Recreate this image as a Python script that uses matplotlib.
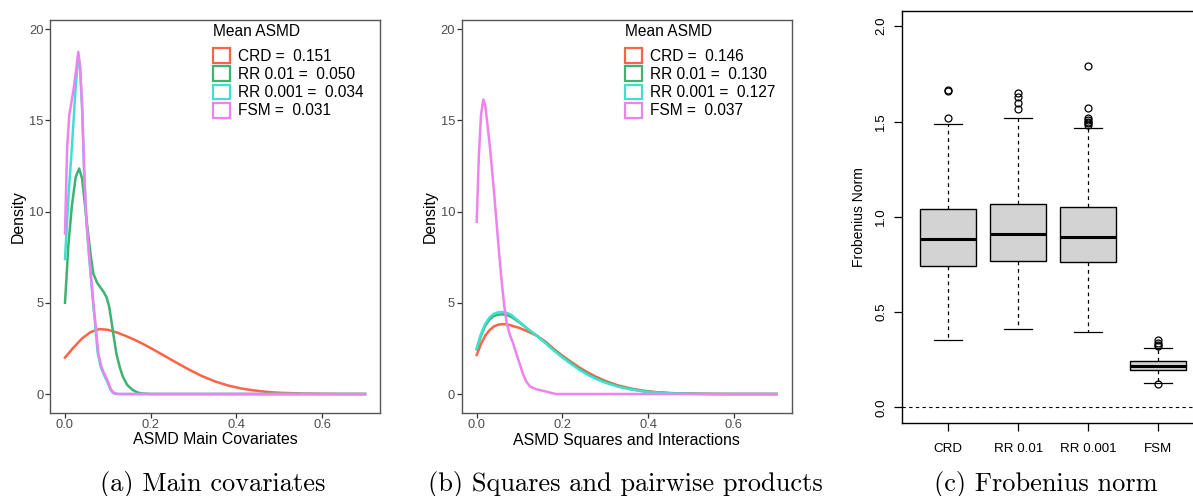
import matplotlib
matplotlib.use("Agg")
import matplotlib.pyplot as plt
from matplotlib.patches import Patch

# ---------------- data ----------------
methods = ["CRD", "RR 0.01", "RR 0.001", "FSM"]
colors = ["#FF6347", "#3CB371", "#40E0D0", "#EE82EE"]
mean_asmd_main = ["0.151", "0.050", "0.034", "0.031"]
mean_asmd_sq = ["0.146", "0.130", "0.127", "0.037"]

# Panel (a): density of ASMD, main covariates
crd_a_x = [0.0, 0.02, 0.04, 0.06, 0.08, 0.10, 0.12, 0.14, 0.16, 0.18, 0.20, 0.23, 0.26, 0.29, 0.32,
           0.35, 0.38, 0.41, 0.44, 0.47, 0.50, 0.55, 0.60, 0.65, 0.70]
crd_a_y = [2.0, 2.55, 3.05, 3.4, 3.56, 3.52, 3.38, 3.2, 3.0, 2.77, 2.52, 2.12, 1.72, 1.33, 0.98,
           0.69, 0.47, 0.31, 0.2, 0.12, 0.07, 0.03, 0.01, 0.0, 0.0]
rr01_a_x = [0.0, 0.008, 0.016, 0.025, 0.033, 0.04, 0.05, 0.06, 0.066, 0.075, 0.081, 0.09, 0.097,
            0.103, 0.108, 0.114, 0.12, 0.128, 0.135, 0.145, 0.158, 0.17, 0.18, 0.20, 0.70]
rr01_a_y = [5.0, 8.2, 10.3, 11.9, 12.36, 11.8, 9.6, 7.6, 6.6, 6.1, 5.9, 5.6, 5.3,
            4.8, 4.05, 3.1, 2.2, 1.45, 0.95, 0.5, 0.22, 0.08, 0.03, 0.0, 0.0]
rr001_a_x = [0.0, 0.008, 0.016, 0.024, 0.031, 0.035, 0.04, 0.045, 0.05, 0.055, 0.06, 0.066, 0.07,
             0.076, 0.083, 0.09, 0.1, 0.106, 0.112, 0.118, 0.70]
rr001_a_y = [7.4, 10.8, 13.5, 16.5, 18.6, 17.9, 15.6, 12.0, 9.4, 7.9, 6.5, 4.9, 3.9,
             2.3, 1.5, 1.1, 0.6, 0.25, 0.06, 0.0, 0.0]
fsm_a_x = [0.0, 0.005, 0.01, 0.02, 0.025, 0.031, 0.035, 0.04, 0.045, 0.05, 0.055, 0.06, 0.066,
           0.07, 0.078, 0.085, 0.09, 0.1, 0.107, 0.115, 0.125, 0.70]
fsm_a_y = [8.8, 13.5, 15.3, 16.7, 17.6, 18.75, 18.0, 15.8, 12.0, 9.5, 8.0, 6.6, 5.0,
           4.1, 2.2, 1.5, 1.2, 0.7, 0.25, 0.05, 0.0, 0.0]

# Panel (b): density of ASMD, squares and interactions
crd_b_x = [0.0, 0.01, 0.02, 0.03, 0.04, 0.05, 0.06, 0.07, 0.08, 0.10, 0.12, 0.14, 0.16, 0.18, 0.20,
           0.22, 0.24, 0.26, 0.28, 0.30, 0.33, 0.36, 0.39, 0.42, 0.45, 0.50, 0.55, 0.60, 0.70]
crd_b_y = [2.14, 2.75, 3.2, 3.5, 3.7, 3.8, 3.83, 3.82, 3.76, 3.62, 3.42, 3.2, 2.88, 2.47, 2.1,
           1.77, 1.45, 1.17, 0.93, 0.72, 0.47, 0.3, 0.18, 0.1, 0.05, 0.02, 0.01, 0.0, 0.0]
rr01_b_x = [0.0, 0.01, 0.02, 0.03, 0.04, 0.05, 0.06, 0.07, 0.08, 0.10, 0.12, 0.14, 0.16, 0.18, 0.20,
            0.22, 0.24, 0.26, 0.28, 0.30, 0.33, 0.36, 0.39, 0.42, 0.45, 0.50, 0.55, 0.70]
rr01_b_y = [2.45, 3.2, 3.75, 4.08, 4.28, 4.35, 4.37, 4.33, 4.24, 3.92, 3.55, 3.2, 2.82, 2.42, 2.04,
            1.69, 1.37, 1.09, 0.86, 0.66, 0.43, 0.27, 0.15, 0.09, 0.05, 0.015, 0.0, 0.0]
rr001_b_x = [0.0, 0.01, 0.02, 0.03, 0.04, 0.05, 0.06, 0.07, 0.08, 0.10, 0.12, 0.14, 0.16, 0.18, 0.20,
             0.22, 0.24, 0.26, 0.28, 0.30, 0.33, 0.36, 0.39, 0.42, 0.45, 0.50, 0.55, 0.70]
rr001_b_y = [2.5, 3.3, 3.85, 4.2, 4.4, 4.48, 4.5, 4.45, 4.35, 3.95, 3.55, 3.2, 2.8, 2.38, 2.0,
             1.65, 1.32, 1.04, 0.81, 0.62, 0.4, 0.25, 0.14, 0.08, 0.04, 0.01, 0.0, 0.0]
fsm_b_x = [0.0, 0.005, 0.01, 0.0155, 0.02, 0.025, 0.031, 0.04, 0.046, 0.052, 0.058, 0.064, 0.07,
           0.078, 0.085, 0.092, 0.1, 0.108, 0.116, 0.125, 0.139, 0.15, 0.163, 0.175, 0.186, 0.70]
fsm_b_y = [9.44, 13.0, 15.3, 16.14, 15.8, 14.8, 13.5, 11.2, 9.5, 7.8, 6.24, 4.9, 3.87,
           3.2, 2.78, 2.25, 1.68, 1.1, 0.67, 0.4, 0.26, 0.2, 0.13, 0.05, 0.0, 0.0]

# Panel (c): Frobenius norm boxplot summaries
box_labels = ["CRD", "RR 0.01", "RR 0.001", "FSM"]
box_q1 = [0.742, 0.767, 0.763, 0.196]
box_med = [0.886, 0.912, 0.896, 0.218]
box_q3 = [1.043, 1.068, 1.050, 0.243]
box_whislo = [0.352, 0.411, 0.394, 0.126]
box_whishi = [1.488, 1.518, 1.468, 0.313]
box_fliers = [[1.518, 1.660, 1.663],
              [1.568, 1.597, 1.631, 1.652],
              [1.480, 1.490, 1.500, 1.510, 1.518, 1.570, 1.793],
              [0.123, 0.320, 0.330, 0.336, 0.353]]

# ---------------- figure ----------------
W, H = 1193, 496
fig = plt.figure(figsize=(W / 100, H / 100), dpi=100)
sans = "Liberation Sans"
plt.rcParams["font.family"] = [sans, "DejaVu Sans"]


def px_axes(l, t, r, b):
    return fig.add_axes([l / W, 1 - b / H, (r - l) / W, (b - t) / H])


def style_gg(ax):
    for s in ax.spines.values():
        s.set_color("#555555")
        s.set_linewidth(1.0)
    ax.tick_params(axis="both", direction="out", length=3.6, width=0.9, color="#333333",
                   labelcolor="#4D4D4D", labelsize=9.3)
    ax.tick_params(axis="x", pad=0.8)
    ax.tick_params(axis="y", pad=1.2)
    ax.set_xlim(-0.035, 0.735)
    ax.set_ylim(-1.04, 20.5)
    ax.set_xticks([0.0, 0.2, 0.4, 0.6])
    ax.set_xticklabels(["0.0", "0.2", "0.4", "0.6"])
    ax.set_yticks([0, 5, 10, 15, 20])
    ax.set_yticklabels(["0", "5", "10", "15", "20"])
    ax.set_ylabel("Density", fontsize=11.4, color="black", labelpad=2)


def gg_legend(ax, values):
    ax.text(0.494, 0.971, "Mean ASMD", transform=ax.transAxes, fontsize=11.2,
            ha="left", va="center", color="black")
    handles = [Patch(facecolor="white", edgecolor=c, linewidth=1.6) for c in colors]
    labels = [f"{m} =  {v}" for m, v in zip(methods, values)]
    leg = ax.legend(handles, labels, loc="upper left",
                    bbox_to_anchor=(0.494, 0.929), frameon=False, fontsize=11.2,
                    handlelength=1.08, handleheight=1.08, borderaxespad=0.0,
                    handletextpad=0.55, labelspacing=0.17, borderpad=0.0)
    return leg


# Panel (a)
ax1 = px_axes(50, 20, 380, 413)
style_gg(ax1)
series_a = [(crd_a_x, crd_a_y), (rr01_a_x, rr01_a_y), (rr001_a_x, rr001_a_y), (fsm_a_x, fsm_a_y)]
for (xs, ys), c in zip(series_a, colors):
    ax1.plot(xs, ys, color=c, lw=1.8, solid_joinstyle="round")
ax1.set_xlabel("ASMD Main Covariates", fontsize=11.4, color="black", labelpad=1)
gg_legend(ax1, mean_asmd_main)

# Panel (b)
ax2 = px_axes(461.7, 20, 791.7, 413)
style_gg(ax2)
series_b = [(crd_b_x, crd_b_y), (rr01_b_x, rr01_b_y), (rr001_b_x, rr001_b_y), (fsm_b_x, fsm_b_y)]
for (xs, ys), c in zip(series_b, colors):
    ax2.plot(xs, ys, color=c, lw=1.8, solid_joinstyle="round")
ax2.set_xlabel("ASMD Squares and Interactions", fontsize=11.4, color="black", labelpad=1)
gg_legend(ax2, mean_asmd_sq)

# Panel (c)
ax3 = px_axes(902, 11, 1204.5, 422.7)
stats = []
for lab, q1, med, q3, lo, hi, fl in zip(box_labels, box_q1, box_med, box_q3,
                                        box_whislo, box_whishi, box_fliers):
    stats.append(dict(label=lab, q1=q1, med=med, q3=q3, whislo=lo, whishi=hi, fliers=fl))
ax3.axhline(0, ls=(0, (3, 3)), color="black", lw=0.8, zorder=1)
ax3.bxp(stats, positions=[1, 2, 3, 4], widths=0.8, patch_artist=True, capwidths=0.4,
        boxprops=dict(facecolor="#D3D3D3", edgecolor="black", linewidth=1.0),
        medianprops=dict(color="black", linewidth=2.2),
        whiskerprops=dict(color="black", linewidth=0.9, linestyle=(0, (3, 3))),
        capprops=dict(color="black", linewidth=0.9),
        flierprops=dict(marker="o", markerfacecolor="none", markeredgecolor="black",
                        markersize=5, markeredgewidth=0.9))
ax3.set_xlim(0.34, 4.66)
ax3.set_ylim(-0.08, 2.08)
ax3.set_yticks([0.0, 0.5, 1.0, 1.5, 2.0])
ax3.set_yticklabels(["0.0", "0.5", "1.0", "1.5", "2.0"], rotation=90, va="center")
ax3.set_xticks([1, 2, 3, 4])
ax3.set_xticklabels(box_labels)
for s in ax3.spines.values():
    s.set_color("black")
    s.set_linewidth(1.0)
ax3.tick_params(axis="both", direction="out", length=5.5, width=0.9, color="black",
                labelcolor="black", labelsize=9.6)
ax3.tick_params(axis="x", pad=9)
ax3.tick_params(axis="y", pad=5)
ax3.set_ylabel("Frobenius Norm", fontsize=10, labelpad=7)

# Captions
cap_kw = dict(fontfamily="cmr10", fontsize=19, ha="center", va="center", color="black")
fig.text(213 / W, 1 - 484 / H, "(a) Main covariates", **cap_kw)
fig.text(625 / W, 1 - 484 / H, "(b) Squares and pairwise products", **cap_kw)
fig.text(1046 / W, 1 - 484 / H, "(c) Frobenius norm", **cap_kw)

fig.savefig("out.png", dpi=100)
